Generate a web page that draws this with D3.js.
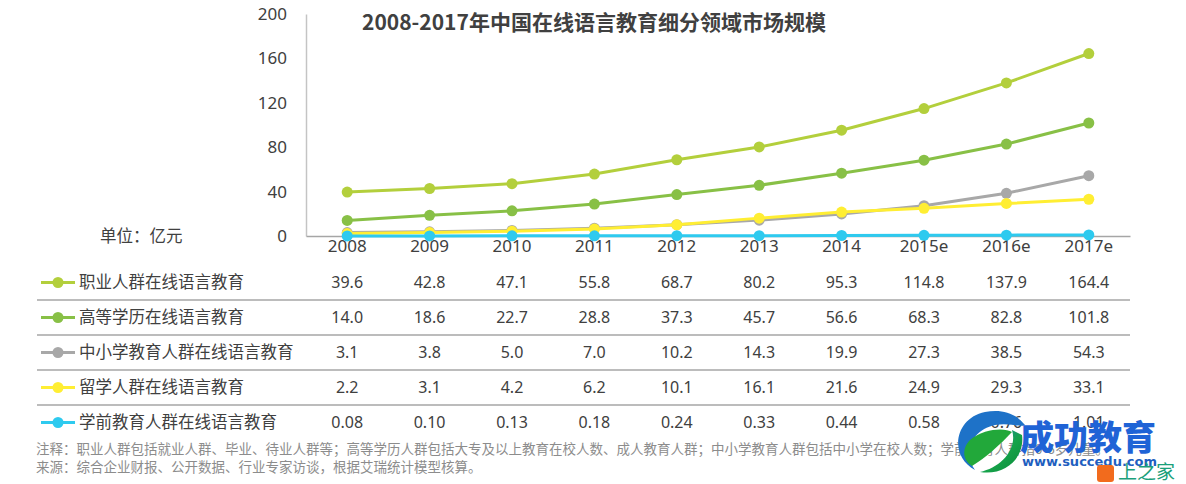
<!DOCTYPE html>
<html>
<head>
<meta charset="utf-8">
<script src="https://cdn.jsdelivr.net/npm/d3@7"></script>
<style>
  html, body { margin: 0; padding: 0; background: #ffffff; }
  svg { display: block; }
  text { font-family: "Noto Sans CJK SC", "Noto Sans", sans-serif; }
</style>
</head>
<body>
<svg id="chart" width="1186" height="484"></svg>
<script>
// ---- data ----
const years = ["2008", "2009", "2010", "2011", "2012", "2013", "2014", "2015e", "2016e", "2017e"];
const seriesNames = ["职业人群在线语言教育", "高等学历在线语言教育", "中小学教育人群在线语言教育", "留学人群在线语言教育", "学前教育人群在线语言教育"];
const vocational = [39.6, 42.8, 47.1, 55.8, 68.7, 80.2, 95.3, 114.8, 137.9, 164.4];
const higherEdu = [14.0, 18.6, 22.7, 28.8, 37.3, 45.7, 56.6, 68.3, 82.8, 101.8];
const k12 = [3.1, 3.8, 5.0, 7.0, 10.2, 14.3, 19.9, 27.3, 38.5, 54.3];
const studyAbroad = [2.2, 3.1, 4.2, 6.2, 10.1, 16.1, 21.6, 24.9, 29.3, 33.1];
const preschool = [0.08, 0.10, 0.13, 0.18, 0.24, 0.33, 0.44, 0.58, 0.76, 1.01];
const valueDecimals = [1, 1, 1, 1, 2];
const yTicks = [0, 40, 80, 120, 160, 200];
const seriesColors = ["#b3cf3c", "#88c046", "#a8a8a8", "#ffee33", "#2ecaef"];
const titleText = "2008-2017年中国在线语言教育细分领域市场规模";
const unitText = "单位：亿元";
const noteText = "注释：职业人群包括就业人群、毕业、待业人群等；高等学历人群包括大专及以上教育在校人数、成人教育人群；中小学教育人群包括中小学在校人数；学前教育人群指0-6岁儿童。";
const sourceText = "来源：综合企业财报、公开数据、行业专家访谈，根据艾瑞统计模型核算。";

const seriesValues = [vocational, higherEdu, k12, studyAbroad, preschool];

// ---- drawing ----
const svg = d3.select("#chart");
const textColor = "#404040";
const axisColor = "#a6a6a6";

const x = d3.scaleBand().domain(years).range([306, 1130]);
const y = d3.scaleLinear().domain([0, 200]).range([236, 14]);
const rowScale = d3.scaleBand().domain(seriesNames).range([265, 440]);

// Y axis
const yAxis = svg.append("g")
  .attr("transform", "translate(306,0)")
  .call(d3.axisLeft(y).tickValues(yTicks).tickSize(0).tickSizeOuter(0).tickPadding(19));
yAxis.select(".domain").attr("stroke", "#c4c4c4").attr("stroke-width", 1.5);
yAxis.selectAll("text").attr("fill", textColor).style("font-size", "17px")
  .style("font-family", "'Noto Sans', 'Noto Sans CJK SC', sans-serif");

// X axis
const xAxis = svg.append("g")
  .attr("transform", "translate(0,236)")
  .call(d3.axisBottom(x).tickSize(0).tickSizeOuter(0).tickPadding(4));
xAxis.select(".domain").attr("stroke", axisColor).attr("stroke-width", 1.5);
xAxis.selectAll("text").attr("fill", textColor).style("font-size", "17px")
  .style("font-family", "'Noto Sans', 'Noto Sans CJK SC', sans-serif");

// Title
svg.append("text")
  .attr("x", 362).attr("y", 30)
  .attr("fill", textColor)
  .style("font-size", "21px").style("font-weight", "bold")
  .text(titleText);

// Unit
svg.append("text")
  .attr("x", 100).attr("y", 242)
  .attr("fill", textColor)
  .style("font-size", "16.5px")
  .text(unitText);

// Lines & points
const line = d3.line()
  .x((d, i) => x(years[i]) + x.bandwidth() / 2)
  .y(d => y(d));

seriesValues.forEach((vals, si) => {
  const g = svg.append("g");
  g.append("path")
    .datum(vals)
    .attr("fill", "none")
    .attr("stroke", seriesColors[si])
    .attr("stroke-width", 3)
    .attr("d", line);
  g.selectAll("circle")
    .data(vals)
    .enter().append("circle")
    .attr("cx", (d, i) => x(years[i]) + x.bandwidth() / 2)
    .attr("cy", d => y(d))
    .attr("r", 5.5)
    .attr("fill", seriesColors[si]);
});

// Table
seriesNames.forEach((name, si) => {
  const cy = rowScale(name) + rowScale.bandwidth() / 2;
  const g = svg.append("g");
  g.append("line")
    .attr("x1", 41).attr("x2", 75).attr("y1", cy).attr("y2", cy)
    .attr("stroke", seriesColors[si]).attr("stroke-width", 3);
  g.append("circle").attr("cx", 58).attr("cy", cy).attr("r", 5.5).attr("fill", seriesColors[si]);
  g.append("text")
    .attr("x", 79).attr("y", cy).attr("dy", "0.35em")
    .attr("fill", textColor).style("font-size", "16.5px")
    .text(name);
  g.selectAll("text.val")
    .data(seriesValues[si])
    .enter().append("text")
    .attr("class", "val")
    .attr("x", (d, i) => x(years[i]) + x.bandwidth() / 2)
    .attr("y", cy).attr("dy", "0.35em")
    .attr("text-anchor", "middle")
    .attr("fill", textColor)
    .style("font-size", "16px")
    .style("font-family", "'Noto Sans', 'Noto Sans CJK SC', sans-serif")
    .text(d => d.toFixed(valueDecimals[si]));
  if (si < seriesNames.length - 1) {
    svg.append("line")
      .attr("x1", 37).attr("x2", 1130)
      .attr("y1", rowScale(name) + rowScale.bandwidth())
      .attr("y2", rowScale(name) + rowScale.bandwidth())
      .attr("stroke", axisColor).attr("stroke-width", 1.5);
  }
});

// Notes
svg.append("text").attr("x", 36).attr("y", 454)
  .attr("fill", "#8c8c8c").style("font-size", "13.5px").text(noteText);
svg.append("text").attr("x", 36).attr("y", 472)
  .attr("fill", "#8c8c8c").style("font-size", "13.5px").text(sourceText);

// Watermark (logo overlay)
const wm = svg.append("g");
const defs = svg.append("defs");
const grad = defs.append("linearGradient").attr("id", "wmg").attr("x1", "0").attr("y1", "0").attr("x2", "1").attr("y2", "1");
grad.append("stop").attr("offset", "0%").attr("stop-color", "#1a78d0");
grad.append("stop").attr("offset", "55%").attr("stop-color", "#16a34a");
grad.append("stop").attr("offset", "100%").attr("stop-color", "#0b8a3a");
wm.append("path")
  .attr("d", "M985,412 C955,418 948,455 975,470 C962,452 972,430 995,425 C1010,422 1020,428 1025,425 C1015,412 1000,409 985,412 Z")
  .attr("fill", "#1e72c8");
wm.append("path")
  .attr("d", "M1012,430 C1018,450 1000,468 980,472 C1005,476 1025,458 1022,435 Z")
  .attr("fill", "url(#wmg)");
wm.append("path")
  .attr("d", "M970,440 C985,428 1005,428 1012,432 C1000,445 985,458 972,466 C962,460 962,448 970,440 Z")
  .attr("fill", "#22a83a");
wm.append("text").attr("x", 1020).attr("y", 450)
  .attr("fill", "#1f63d6").style("font-size", "34px").style("font-weight", "900")
  .text("成功教育");
wm.append("text").attr("x", 1022).attr("y", 466)
  .attr("fill", "#1f5fc0").style("font-size", "13px").style("font-weight", "bold")
  .style("font-family", "'DejaVu Sans', sans-serif")
  .text("www.succedu.com");
wm.append("rect").attr("x", 1097).attr("y", 465).attr("width", 17).attr("height", 17).attr("rx", 3).attr("fill", "#f26b1d");
wm.append("text").attr("x", 1118).attr("y", 479)
  .attr("fill", "#1aa07a").style("font-size", "19px").text("上之家");
</script>
</body>
</html>
